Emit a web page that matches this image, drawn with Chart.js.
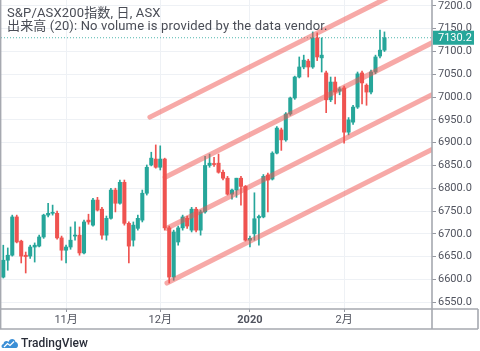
<!DOCTYPE html>
<html>
<head>
<meta charset="utf-8">
<script src="https://cdn.jsdelivr.net/npm/chart.js@4.4.1/dist/chart.umd.min.js"></script>
<style>
    html, body { margin: 0; padding: 0; background: #fff; }
    #wrap { position: relative; width: 480px; height: 351px; overflow: hidden; }
    #legend {
        position: absolute; left: 7px; top: 7px;
        font: 13px Roboto, "Noto Sans CJK JP", sans-serif;
        line-height: 12.5px; color: #4a4d56; white-space: nowrap;
        letter-spacing: 0.15px;
    }
    #brand {
        position: absolute; left: 1px; top: 336px; height: 14px;
        display: flex; align-items: center;
        font: 500 12px Roboto, sans-serif; color: #2a2e39;
    }
    #brand svg { margin-right: 2px; }
</style>
</head>
<body>
<div id="wrap">
    <canvas id="chart" width="480" height="351"></canvas>
    <div id="legend">S&amp;P/ASX200指数, 日, ASX<br>出来高 (20): No volume is provided by the data vendor.</div>
    <div id="brand">
        <svg width="18" height="12" viewBox="0 0 18 12">
            <path d="M2 11 C0 11 0 7 2.5 7 C2.5 4 6 3 7.5 5 C8.5 1 14 1 14.5 5 C17.5 5 18 11 15 11 Z" fill="#3b8fd6"/>
            <path d="M3 10 L6.5 6.5 L9 8.5 L13 4.5" stroke="#fff" stroke-width="1.3" fill="none"/>
        </svg>
        <span>TradingView</span>
    </div>
</div>
<script>
// daily bars, S&P/ASX200
const dates = [
    '2019-10-14','2019-10-15','2019-10-16','2019-10-17','2019-10-18','2019-10-21','2019-10-22','2019-10-23','2019-10-24','2019-10-25',
    '2019-10-28','2019-10-29','2019-10-30','2019-10-31',
    '2019-11-01','2019-11-04','2019-11-05','2019-11-06','2019-11-07','2019-11-08','2019-11-11','2019-11-12','2019-11-13','2019-11-14',
    '2019-11-15','2019-11-18','2019-11-19','2019-11-20','2019-11-21','2019-11-22','2019-11-25','2019-11-26','2019-11-27','2019-11-28','2019-11-29',
    '2019-12-02','2019-12-03','2019-12-04','2019-12-05','2019-12-06','2019-12-09','2019-12-10','2019-12-11','2019-12-12','2019-12-13',
    '2019-12-16','2019-12-17','2019-12-18','2019-12-19','2019-12-20','2019-12-23','2019-12-24','2019-12-27','2019-12-30','2019-12-31',
    '2020-01-02','2020-01-03','2020-01-06','2020-01-07','2020-01-08','2020-01-09','2020-01-10','2020-01-13','2020-01-14','2020-01-15',
    '2020-01-16','2020-01-17','2020-01-20','2020-01-21','2020-01-22','2020-01-23','2020-01-24','2020-01-28','2020-01-29','2020-01-30','2020-01-31',
    '2020-02-03','2020-02-04','2020-02-05','2020-02-06','2020-02-07','2020-02-10','2020-02-11','2020-02-12','2020-02-13','2020-02-14'
];

const opens = [
    6605, 6642, 6653, 6737, 6684, 6653, 6651, 6671, 6673, 6693,
    6741, 6745, 6745, 6691, 6664, 6671, 6695, 6697, 6658, 6730,
    6719, 6774, 6754, 6697, 6734, 6796, 6767, 6813, 6723, 6686,
    6712, 6730, 6789, 6851, 6864, 6846, 6864, 6713, 6605, 6682,
    6713, 6734, 6708, 6754, 6708, 6748, 6850, 6853, 6855, 6835,
    6822, 6787, 6796, 6822, 6804, 6686, 6700, 6735, 6737, 6829,
    6820, 6877, 6928, 6906, 6963, 6998, 7044, 7066, 7079, 7066,
    7130, 7086, 7053, 6994, 7033, 7013, 7020, 6923, 6945, 6978,
    7053, 7026, 7011, 7055, 7090, 7103
];
const highs = [
    6675, 6669, 6741, 6741, 6686, 6660, 6675, 6680, 6697, 6743,
    6767, 6763, 6750, 6695, 6675, 6715, 6726, 6715, 6730, 6743,
    6778, 6780, 6758, 6739, 6800, 6800, 6818, 6818, 6726, 6726,
    6741, 6796, 6851, 6879, 6895, 6893, 6866, 6717, 6708, 6717,
    6741, 6739, 6758, 6758, 6752, 6870, 6875, 6868, 6875, 6840,
    6826, 6798, 6822, 6826, 6806, 6695, 6790, 6741, 6830, 6833,
    6880, 6935, 6932, 6966, 7000, 7046, 7088, 7092, 7083, 7143,
    7141, 7130, 7057, 7044, 7044, 7022, 7024, 6955, 6982, 7055,
    7057, 7029, 7059, 7092, 7147, 7143
];
const lows = [
    6603, 6620, 6651, 6680, 6636, 6614, 6646, 6638, 6671, 6690,
    6737, 6741, 6688, 6642, 6636, 6666, 6686, 6653, 6656, 6721,
    6717, 6750, 6688, 6686, 6732, 6748, 6765, 6719, 6636, 6673,
    6708, 6726, 6785, 6849, 6844, 6840, 6708, 6592, 6598, 6675,
    6708, 6712, 6704, 6704, 6697, 6745, 6846, 6848, 6833, 6818,
    6785, 6776, 6780, 6763, 6684, 6671, 6686, 6675, 6735, 6748,
    6818, 6875, 6883, 6903, 6960, 6995, 7042, 7062, 7044, 7063,
    7080, 7055, 6966, 6990, 6985, 7005, 6899, 6917, 6940, 6975,
    6985, 6982, 7007, 7051, 7086, 7100
];
const closes = [
    6642, 6653, 6737, 6682, 6651, 6650, 6671, 6675, 6693, 6741,
    6745, 6747, 6691, 6664, 6671, 6686, 6697, 6658, 6726, 6726,
    6774, 6752, 6697, 6734, 6796, 6767, 6813, 6723, 6673, 6719,
    6734, 6789, 6846, 6866, 6846, 6864, 6713, 6605, 6704, 6713,
    6737, 6717, 6754, 6708, 6748, 6850, 6855, 6852, 6835, 6822,
    6787, 6796, 6822, 6804, 6686, 6690, 6733, 6738, 6826, 6818,
    6877, 6932, 6906, 6963, 6998, 7044, 7066, 7081, 7066, 7130,
    7088, 7092, 6994, 7033, 7011, 7018, 6923, 6950, 6978, 7051,
    7031, 7011, 7055, 7088, 7103, 7130.2
];

// drawn channel lines: [bar index, price] at each end
const channelLines = [
    [[32.7, 6956], [95.6, 7267]],
    [[36.1, 6824], [95.6, 7119]],
    [[36.5, 6712], [95.6, 7005]],
    [[36.5, 6592], [95.6, 6885]]
];

const X_MIN = -0.51, X_MAX = 95.6;
const UP = '#26a69a';
const DOWN = '#ef5350';
const lastPrice = closes[closes.length - 1];

const barColors = closes.map((c, i) => c >= opens[i] ? UP : DOWN);

// first trading day of each month gets a tick
const monthStarts = [];
dates.forEach((d, i) => {
    if (i > 0 && d.slice(5, 7) !== dates[i - 1].slice(5, 7)) monthStarts.push(i);
});

function monthLabel(i) {
    const [y, m] = dates[i].split('-');
    return m === '01' ? y : parseInt(m, 10) + '月';
}

const framePlugin = {
    id: 'frame',
    afterDraw(chart) {
        const { ctx, chartArea: a } = chart;
        const axisBottom = a.bottom + 20;
        const right = a.right + 46;
        ctx.save();
        ctx.strokeStyle = '#a6a9b0';
        ctx.lineWidth = 1.6;
        ctx.beginPath();
        ctx.moveTo(0.6, 0); ctx.lineTo(0.6, axisBottom);
        ctx.moveTo(a.right, 0); ctx.lineTo(a.right, axisBottom);
        ctx.moveTo(0, a.bottom); ctx.lineTo(right, a.bottom);
        ctx.moveTo(0, axisBottom); ctx.lineTo(right, axisBottom);
        ctx.moveTo(right, a.bottom); ctx.lineTo(right, axisBottom);
        ctx.stroke();

        // last price label
        const y = chart.scales.y.getPixelForValue(lastPrice);
        ctx.fillStyle = UP;
        ctx.fillRect(a.right + 1, y - 7, 41, 14);
        ctx.fillStyle = '#ffffff';
        ctx.font = '11px Roboto, sans-serif';
        ctx.textBaseline = 'middle';
        ctx.textAlign = 'left';
        ctx.fillText(lastPrice.toFixed(1), a.right + 6, y + 0.5);
        ctx.restore();
    }
};

const datasets = [];

datasets.push({
    type: 'line',
    data: [{ x: X_MIN, y: lastPrice }, { x: X_MAX, y: lastPrice }],
    borderColor: 'rgba(38,166,154,0.8)',
    borderWidth: 1,
    borderDash: [1, 2],
    pointRadius: 0,
    order: 6
});

datasets.push({
    type: 'bar',
    data: dates.map((d, i) => ({ x: i, y: [lows[i], highs[i]] })),
    backgroundColor: barColors,
    barThickness: 1,
    grouped: false,
    order: 5
});

datasets.push({
    type: 'bar',
    data: dates.map((d, i) => ({ x: i, y: [opens[i], closes[i]] })),
    backgroundColor: barColors,
    barThickness: 3.4,
    minBarLength: 1,
    grouped: false,
    order: 4
});

channelLines.forEach(seg => {
    datasets.push({
        type: 'line',
        data: seg.map(p => ({ x: p[0], y: p[1] })),
        borderColor: 'rgba(239,83,80,0.5)',
        borderWidth: 5,
        borderCapStyle: 'round',
        pointRadius: 0,
        tension: 0,
        order: 1
    });
});

new Chart(document.getElementById('chart'), {
    type: 'bar',
    data: { datasets },
    options: {
        responsive: false,
        animation: false,
        devicePixelRatio: 1,
        events: [],
        layout: { padding: { left: 1, right: 2, top: 0, bottom: 22 } },
        plugins: { legend: { display: false }, tooltip: { enabled: false } },
        scales: {
            x: {
                type: 'linear',
                min: X_MIN,
                max: X_MAX,
                offset: false,
                afterBuildTicks: (scale) => {
                    scale.ticks = monthStarts.map(i => ({ value: i }));
                },
                afterFit: (scale) => {
                    scale.height = 20;
                    scale.paddingLeft = 0;
                    scale.paddingRight = 0;
                },
                grid: {
                    offset: false,
                    color: '#eef1f5',
                    tickColor: '#9598a1',
                    tickLength: 3
                },
                border: { display: false },
                ticks: {
                    autoSkip: false,
                    maxRotation: 0,
                    padding: 2,
                    color: '#50535e',
                    font: (ctx) => ({
                        family: 'Roboto, "Noto Sans CJK JP", sans-serif',
                        size: 11,
                        weight: (ctx.tick && ctx.tick.label === '2020') ? 'bold' : 'normal'
                    }),
                    callback: (value) => monthLabel(value)
                }
            },
            y: {
                type: 'linear',
                position: 'right',
                min: 6535,
                max: 7213,
                afterBuildTicks: (scale) => {
                    scale.ticks = scale.ticks.filter(t => t.value % 50 === 0);
                },
                afterFit: (scale) => {
                    scale.width = 46;
                    scale.paddingTop = 0;
                    scale.paddingBottom = 0;
                },
                grid: {
                    color: '#eef1f5',
                    tickColor: '#9598a1',
                    tickLength: 4
                },
                border: { display: false },
                ticks: {
                    stepSize: 50,
                    includeBounds: false,
                    padding: 2,
                    color: '#50535e',
                    font: { family: 'Roboto, sans-serif', size: 11 },
                    callback: (value) => value.toFixed(1)
                }
            }
        }
    },
    plugins: [framePlugin]
});
</script>
</body>
</html>
